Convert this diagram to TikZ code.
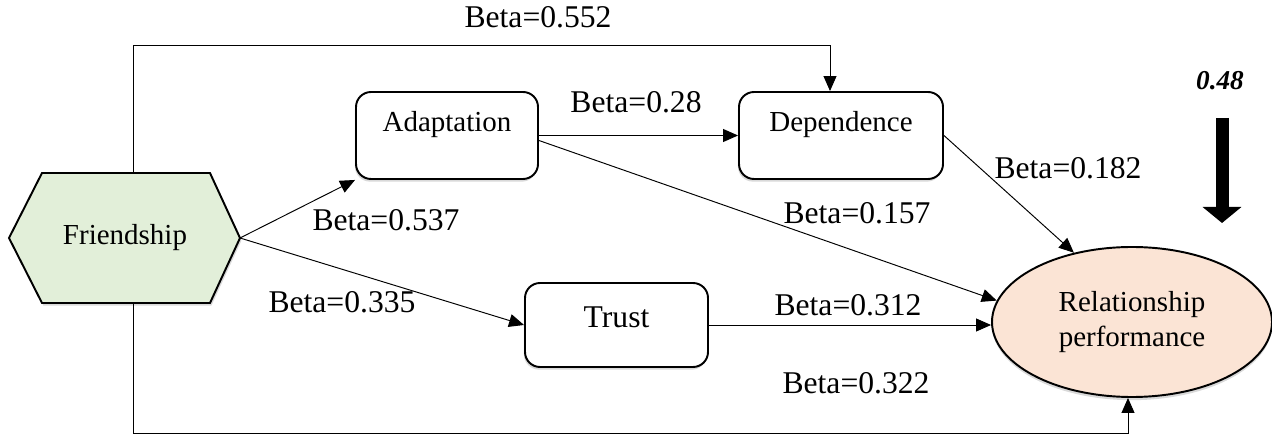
\documentclass[tikz,border=0pt]{standalone}
\usepackage{fontspec}
\setmainfont{Liberation Serif}
\usetikzlibrary{arrows.meta,shapes.geometric,shadows}
\definecolor{hexgreen}{RGB}{226,239,217}
\definecolor{peach}{RGB}{251,228,213}

\begin{document}
\begin{tikzpicture}[
box/.style={draw, line width=1.1pt, rounded corners=0.3cm, fill=white,
	inner xsep=0pt, inner ysep=0pt, text height=0.8cm, text depth=0.94cm,
	font=\fontsize{16.5}{20}\selectfont,
	drop shadow={shadow xshift=-0.6pt, shadow yshift=-1.5pt, opacity=0.3}},
conn/.style={line width=0.55pt, -{Triangle[length=0.3cm, width=0.26cm]}},
beta/.style={font=\fontsize{18}{22}\selectfont, inner sep=0pt}]
\useasboundingbox (0,0) rectangle (25.44,-8.7);

% Friendship hexagon
\coordinate (fr-w) at (0.18,-4.76);
\coordinate (fr-e) at (4.80,-4.76);
\coordinate (fr-top) at (2.66,-3.46);
\coordinate (fr-bot) at (2.66,-6.06);
\filldraw[line width=1.1pt, fill=hexgreen,
	drop shadow={shadow xshift=0.8pt, shadow yshift=-1.5pt, opacity=0.3}]
	(fr-w) -- (0.84,-3.46) -- (4.20,-3.46) -- (fr-e) -- (4.20,-6.06) -- (0.84,-6.06) -- cycle;
\node[font=\fontsize{16.5}{20}\selectfont] (fr) at (2.5,-4.76) {Friendship};

% mediators
\node[box, minimum width=3.64cm] (ad) at (8.94,-2.71) {Adaptation};
\node[box, minimum width=4.08cm] (dep) at (16.82,-2.71) {Dependence};
\node[box, minimum width=3.66cm, text height=0.89cm, text depth=0.79cm,
	font=\fontsize{18}{22}\selectfont] (tr) at (12.33,-6.5) {Trust};

% outcome
\node[ellipse, draw, line width=1.1pt, fill=peach, minimum width=5.6cm, minimum height=3.0cm,
	inner sep=0pt, align=center, font=\fontsize{16.5}{20}\selectfont,
	drop shadow={shadow xshift=0pt, shadow yshift=-1.8pt, opacity=0.3}]
	(rp) at (22.64,-6.44) {Relationship\\performance};

% paths
\draw[conn] (fr-top) -- ++(0,2.56) -| ([xshift=-0.22cm]dep.north);
\draw[conn] (fr-bot) -- ++(0,-2.6) -| ([xshift=-0.08cm]rp.south);
\draw[conn] (fr-e) -- (ad.south west);
\draw[conn] (fr-e) -- (tr.west);
\draw[conn] (ad.east) -- (dep.west);
\draw[conn] ([yshift=-0.1cm]ad.east) -- (rp.171);
\draw[conn] (dep.east) -- (rp.130);
\draw[conn] (tr.east) -- (tr.east -| rp.west);

% coefficients
\node[beta] (b1) at (10.76,-0.34) {Beta=0.552};
\node[beta] (b2) at (12.72,-2.04) {Beta=0.28};
\node[beta] (b3) at (21.36,-3.36) {Beta=0.182};
\node[beta] (b4) at (7.72,-4.40) {Beta=0.537};
\node[beta] (b5) at (17.14,-4.26) {Beta=0.157};
\node[beta] (b6) at (6.84,-6.04) {Beta=0.335};
\node[beta] (b7) at (16.96,-6.10) {Beta=0.312};
\node[beta] (b8) at (17.12,-7.66) {Beta=0.322};

% explained variance
\node[font=\fontsize{15.5}{18}\selectfont\bfseries\itshape] (rsq) at (24.40,-1.62) {0.48};
\coordinate (rsq-a) at (24.44,-2.36);
\coordinate (rsq-b) at (24.44,-4.46);
\draw[line width=0.26cm, -{Triangle[length=0.32cm, width=0.76cm]}] (rsq-a) -- (rsq-b);
\end{tikzpicture}
\end{document}
